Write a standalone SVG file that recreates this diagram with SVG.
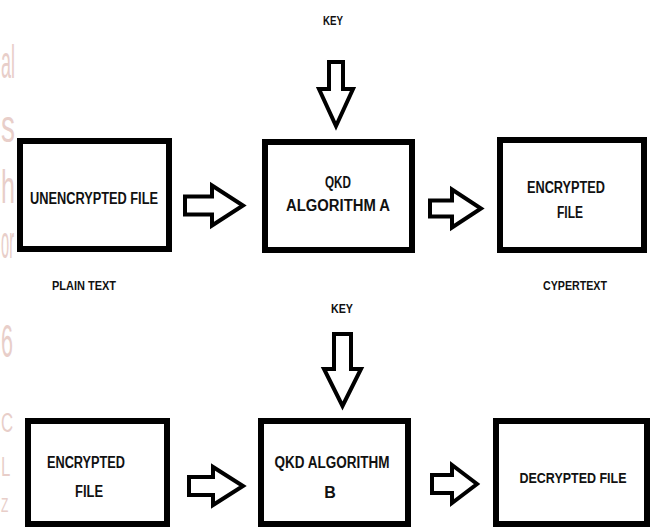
<svg xmlns="http://www.w3.org/2000/svg" width="651" height="529" viewBox="0 0 651 529">
<style>
.box{fill:#fff;stroke:#000;stroke-width:6}
.arr{fill:#fff;stroke:#000;stroke-width:4;stroke-linejoin:miter}
.t{font-family:"Liberation Sans",Arial,sans-serif;font-weight:bold;fill:#111;text-anchor:middle}
.m{font-size:16px}
.s{font-size:12px}
.wm{font-family:"Liberation Sans",Arial,sans-serif;font-size:46px;fill:#e8cec9}
</style>
<rect width="651" height="529" fill="#fff"/>
<g id="watermark">
<text class="wm" x="1" y="78" textLength="14" lengthAdjust="spacingAndGlyphs">al</text>
<text class="wm" x="1" y="142" textLength="14" lengthAdjust="spacingAndGlyphs">s</text>
<text class="wm" x="1" y="203" textLength="14" lengthAdjust="spacingAndGlyphs">h</text>
<text class="wm" x="1" y="258" textLength="13" lengthAdjust="spacingAndGlyphs">or</text>
<text class="wm" x="1" y="357" textLength="12" lengthAdjust="spacingAndGlyphs">6</text>
<text class="wm" style="font-size:28px" transform="translate(1,0) scale(0.6,1)"><tspan x="0" y="432">C</tspan><tspan x="0" y="476">L</tspan><tspan x="0" y="512" style="font-size:20px">Z</tspan></text>
</g>
<g id="unencrypted">
<rect class="box" x="20" y="141" width="149" height="108"/>
<text class="t m" x="94" y="204" textLength="128" lengthAdjust="spacingAndGlyphs">UNENCRYPTED FILE</text>
</g>
<g id="plaintext-label"><text class="t s" x="84" y="290" textLength="64" lengthAdjust="spacingAndGlyphs">PLAIN TEXT</text></g>
<g id="qkd-a">
<rect class="box" x="265" y="142" width="147" height="108"/>
<text class="t m" x="338" y="188" textLength="26" lengthAdjust="spacingAndGlyphs">QKD</text>
<text class="t m" x="338" y="211" textLength="104" lengthAdjust="spacingAndGlyphs">ALGORITHM A</text>
</g>
<g id="key-a"><text class="t s" x="333" y="25" textLength="20" lengthAdjust="spacingAndGlyphs">KEY</text></g>
<g id="encrypted-a">
<rect class="box" x="500" y="140" width="144" height="110"/>
<text class="t m" x="566" y="193" textLength="78" lengthAdjust="spacingAndGlyphs">ENCRYPTED</text>
<text class="t m" x="570" y="218" textLength="26" lengthAdjust="spacingAndGlyphs">FILE</text>
</g>
<g id="cypertext-label"><text class="t s" x="575" y="290" textLength="64" lengthAdjust="spacingAndGlyphs">CYPERTEXT</text></g>
<g id="encrypted-b">
<rect class="box" x="28" y="421" width="139" height="103"/>
<text class="t m" x="86" y="468" textLength="78" lengthAdjust="spacingAndGlyphs">ENCRYPTED</text>
<text class="t m" x="89" y="497" textLength="28" lengthAdjust="spacingAndGlyphs">FILE</text>
</g>
<g id="qkd-b">
<rect class="box" x="261" y="421" width="147" height="103"/>
<text class="t m" x="332" y="468" textLength="115" lengthAdjust="spacingAndGlyphs">QKD ALGORITHM</text>
<text class="t m" x="330" y="498">B</text>
</g>
<g id="key-b"><text class="t s" x="342" y="313" textLength="22" lengthAdjust="spacingAndGlyphs">KEY</text></g>
<g id="decrypted">
<rect class="box" x="496" y="421" width="151" height="103"/>
<text class="t" x="573" y="483" style="font-size:15px" textLength="107" lengthAdjust="spacingAndGlyphs">DECRYPTED FILE</text>
</g>
<g id="connectors">
<path class="arr" d="M185,196.5 H212 V185.5 L243,205.5 L212,225.5 V214.5 H185 Z"/>
<path class="arr" d="M430,200.5 H452 V189.5 L481,208.5 L452,227.5 V216.5 H430 Z"/>
<path class="arr" d="M189,477 H213 V467 L243,486 L213,505 V495 H189 Z"/>
<path class="arr" d="M432,475 H452 V465 L477,484 L452,503 V493 H432 Z"/>
<path class="arr" d="M329,62 H343 V89 H353 L336,126 L319,89 H329 Z"/>
<path class="arr" d="M334,334 H351 V369 H361 L342.5,406 L324,369 H334 Z"/>
</g>
</svg>
